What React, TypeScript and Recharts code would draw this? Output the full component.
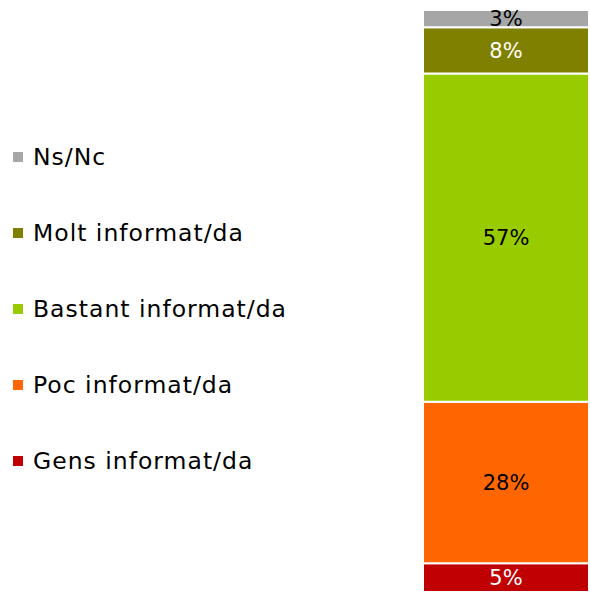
import { BarChart, Bar, XAxis, YAxis, Legend, LabelList } from "recharts";

const categories = ["Total"];
const seriesNames = ["Gens informat/da", "Poc informat/da", "Bastant informat/da", "Molt informat/da", "Ns/Nc"];
const seriesValues = [5, 28, 57, 8, 3];
const seriesColors = ["#C00000", "#FF6600", "#99CC00", "#808000", "#A6A6A6"];
const labelColors = ["#FFFFFF", "#000000", "#000000", "#FFFFFF", "#000000"];

const data = categories.map((name) => {
  const row: Record<string, string | number> = { name };
  seriesNames.forEach((s, i) => {
    row[s] = seriesValues[i];
  });
  return row;
});

const FONT = "'DejaVu Sans', sans-serif";

function LegendBox() {
  const items = seriesNames.map((n, i) => ({ name: n, color: seriesColors[i] })).reverse();
  return (
    <div style={{ position: "absolute", left: 0, top: 119, width: 400, fontFamily: FONT, whiteSpace: "nowrap" }}>
      {items.map((it) => (
        <div key={it.name} style={{ height: 76, display: "flex", alignItems: "center" }}>
          <span style={{ width: 10, height: 10, flexShrink: 0, background: it.color, marginLeft: 13, marginRight: 10 }} />
          <span style={{ fontSize: 23.5, letterSpacing: 1, color: "#000" }}>{it.name}</span>
        </div>
      ))}
    </div>
  );
}

export default function App() {
  return (
    <div style={{ position: "absolute", left: 0, top: 0, width: 590, height: 592 }}>
      <BarChart
        width={590}
        height={592}
        data={data}
        margin={{ top: 10, right: 1, bottom: 0, left: 423 }}
        barCategoryGap={0}
      >
        <XAxis dataKey="name" hide />
        <YAxis hide domain={[0, 101]} />
        <Legend content={() => <LegendBox />} wrapperStyle={{ left: 0, top: 0, width: 400 }} />
        {seriesNames.map((s, i) => (
          <Bar key={s} dataKey={s} stackId="a" fill={seriesColors[i]} stroke="#FFFFFF" strokeWidth={2} isAnimationActive={false}>
            <LabelList
              dataKey={s}
              position="center"
              formatter={(v: number) => `${v}%`}
              fill={labelColors[i]}
              style={{ fontSize: 21, fontFamily: FONT }}
            />
          </Bar>
        ))}
      </BarChart>
    </div>
  );
}
